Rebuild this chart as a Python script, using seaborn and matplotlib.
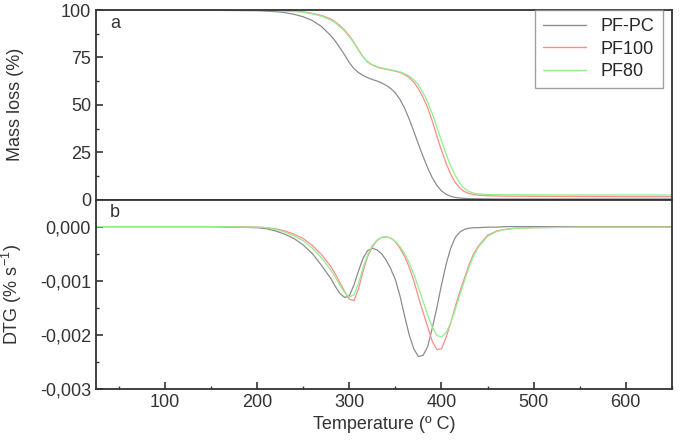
import numpy as np
import pandas as pd
import matplotlib
matplotlib.use("Agg")
import matplotlib.pyplot as plt
import matplotlib.ticker as ticker
import seaborn as sns

# temperature grid (deg C)
temp = [25, 50, 100, 150, 200, 210, 220, 230, 240, 250, 260, 270, 280,
        285, 290, 295, 300, 305, 310, 315, 320, 325, 330, 335, 340, 345,
        350, 355, 360, 365, 370, 375, 380, 385, 390, 395, 400, 405, 410,
        415, 420, 425, 430, 435, 440, 450, 460, 470, 480, 500, 550, 600, 650]

# mass loss (%)
tg_pfpc = [100, 100, 100, 99.9, 99.7, 99.5, 99.2, 98.7, 97.8, 96.5, 94.5, 91.3, 86.5,
           83.5, 80, 76.3, 72.3, 69.2, 67, 65.5, 64.3, 63.4, 62.6, 61.6, 60.3, 58.6,
           56.3, 52.8, 48.2, 42.5, 36, 29.3, 22.8, 16.8, 11.5, 7.5, 4.6, 2.8, 1.7,
           1.1, 0.8, 0.6, 0.5, 0.45, 0.4, 0.35, 0.3, 0.3, 0.3, 0.3, 0.3, 0.3, 0.3]
tg_pf100 = [100, 100, 100, 100, 99.9, 99.9, 99.8, 99.7, 99.5, 99.1, 98.3, 97.2, 95.3,
            93.7, 91.8, 89.4, 86.5, 83, 79, 75.3, 72.6, 71, 70, 69.3, 68.8, 68.3,
            67.8, 67.1, 66, 64.4, 62, 58.5, 54, 48.5, 41.5, 33.5, 26, 19.2, 13.5,
            9, 6, 4.2, 3.2, 2.6, 2.3, 2, 1.9, 1.8, 1.8, 1.7, 1.6, 1.5, 1.5]
tg_pf80 = [100, 100, 100, 100, 99.9, 99.9, 99.8, 99.6, 99.3, 98.9, 98.0, 96.8, 94.8,
           93.2, 91.2, 88.8, 86, 82.6, 78.8, 75.3, 72.8, 71.2, 70.2, 69.5, 69, 68.5,
           68, 67.4, 66.5, 65.2, 63.3, 60.5, 56.5, 51.5, 45.3, 38.3, 31, 24, 17.8,
           12.6, 8.6, 5.8, 4.2, 3.4, 3, 2.7, 2.6, 2.5, 2.5, 2.5, 2.4, 2.4, 2.4]

# DTG (% s-1)
dtg_pfpc = [0, 0, 0, 0, -0.00002, -0.00004, -0.00008, -0.00014, -0.00022, -0.00034, -0.0005, -0.00072, -0.00096,
            -0.00111, -0.00124, -0.00131, -0.00128, -0.00108, -0.00082, -0.00058, -0.00044, -0.0004, -0.00043, -0.0005, -0.00062, -0.00078,
            -0.00098, -0.00128, -0.00165, -0.002, -0.00226, -0.0024, -0.00238, -0.00222, -0.00188, -0.0015, -0.00108, -0.0007, -0.0004,
            -0.0002, -0.0001, -0.00005, -0.00003, -0.00002, -0.00002, -0.00001, -0.00001, 0, 0, 0, 0, 0, 0]
dtg_pf100 = [0, 0, 0, 0, -0.00001, -0.00002, -0.00004, -0.00008, -0.00014, -0.00022, -0.00035, -0.00052, -0.00074,
             -0.00088, -0.00104, -0.0012, -0.00134, -0.00137, -0.00115, -0.00082, -0.00055, -0.00037, -0.00026, -0.0002, -0.00019, -0.00021,
             -0.00028, -0.0004, -0.00055, -0.00075, -0.001, -0.0013, -0.00158, -0.00185, -0.00212, -0.00227, -0.00226, -0.00205, -0.00178,
             -0.00148, -0.0012, -0.00095, -0.0007, -0.0005, -0.00036, -0.00016, -0.00008, -0.00005, -0.00003, -0.00002, -0.00001, -0.00001, -0.00001]
dtg_pf80 = [0, 0, 0, 0, -0.00001, -0.00002, -0.00005, -0.0001, -0.00017, -0.00026, -0.0004, -0.00058, -0.0008,
            -0.00094, -0.00109, -0.00122, -0.0013, -0.00126, -0.00105, -0.00076, -0.00052, -0.00035, -0.00025, -0.0002, -0.00019, -0.00021,
            -0.00027, -0.00037, -0.0005, -0.00067, -0.00088, -0.00112, -0.00138, -0.00163, -0.00186, -0.00201, -0.00204, -0.00196, -0.00178,
            -0.00153, -0.00126, -0.001, -0.00075, -0.00054, -0.00038, -0.00018, -0.00009, -0.00005, -0.00003, -0.00002, -0.00001, -0.00001, -0.00001]

samples = ["PF-PC", "PF100", "PF80"]
colors = ["#8c8c8c", "#ff8a8a", "#8ef08e"]

frames = []
for name, tg, dtg in zip(samples, [tg_pfpc, tg_pf100, tg_pf80], [dtg_pfpc, dtg_pf100, dtg_pf80]):
    frames.append(pd.DataFrame({"T": temp, "TG": tg, "DTG": dtg, "Sample": name}))
df = pd.concat(frames, ignore_index=True)

sns.set_style("ticks")
plt.rcParams["font.family"] = ["Liberation Sans", "DejaVu Sans"]
plt.rcParams["font.size"] = 13
plt.rcParams["mathtext.default"] = "regular"
plt.rcParams["axes.linewidth"] = 1.3
plt.rcParams["axes.edgecolor"] = "#333333"

fig = plt.figure(figsize=(6.8, 4.41), dpi=100)
gs = fig.add_gridspec(2, 1, left=0.141, right=0.988, top=0.977, bottom=0.118, hspace=0)
ax1 = fig.add_subplot(gs[0])
ax2 = fig.add_subplot(gs[1], sharex=ax1)

pal = dict(zip(samples, colors))
sns.lineplot(data=df, x="T", y="TG", hue="Sample", palette=pal, lw=0.9, ax=ax1)
sns.lineplot(data=df, x="T", y="DTG", hue="Sample", palette=pal, lw=0.9, ax=ax2, legend=False)

ax1.set_xlim(25, 650)
ax1.set_ylim(0, 100)
ax1.yaxis.set_major_locator(ticker.MultipleLocator(25))
ax1.yaxis.set_minor_locator(ticker.MultipleLocator(12.5))
ax1.set_ylabel("Mass loss (%)", color="#333333")
ax1.set_xlabel("")
ax1.tick_params(axis="x", which="both", bottom=False, labelbottom=False)

ax2.set_ylim(-0.003, 0.0005)
ax2.yaxis.set_major_locator(ticker.FixedLocator([-0.003, -0.002, -0.001, 0.0]))
ax2.yaxis.set_minor_locator(ticker.FixedLocator([-0.0025, -0.0015, -0.0005]))
ax2.yaxis.set_major_formatter(ticker.FuncFormatter(lambda v, p: f"{v:.3f}".replace(".", ",").replace("-0,000", "0,000")))
ax2.xaxis.set_major_locator(ticker.MultipleLocator(100))
ax2.xaxis.set_minor_locator(ticker.MultipleLocator(50))
ax2.set_ylabel("DTG (% s$^{-1}$)", color="#333333")
ax2.set_xlabel("Temperature (º C)", color="#333333")

for ax in (ax1, ax2):
    ax.tick_params(which="major", direction="in", length=5, width=1.2, colors="#333333", labelsize=13)
    ax.tick_params(which="minor", direction="in", length=2.5, width=1.0, colors="#333333")
    ax.tick_params(top=False, right=False, which="both")
    ax.yaxis.set_label_coords(-0.125, 0.5)

ax1.text(0.025, 0.93, "a", transform=ax1.transAxes, fontsize=13, va="center", color="#333333")
ax2.text(0.025, 0.93, "b", transform=ax2.transAxes, fontsize=13, va="center", color="#333333")

leg = ax1.legend(title=None, loc="upper right", frameon=True, fancybox=False,
                 handlelength=2.4, borderpad=0.45, labelspacing=0.3, fontsize=13,
                 bbox_to_anchor=(0.984, 1.0), borderaxespad=0)
leg.get_frame().set_edgecolor("#888888")
leg.get_frame().set_linewidth(1.0)
for line in leg.get_lines():
    line.set_linewidth(1.0)

fig.savefig("out.png", dpi=100)
